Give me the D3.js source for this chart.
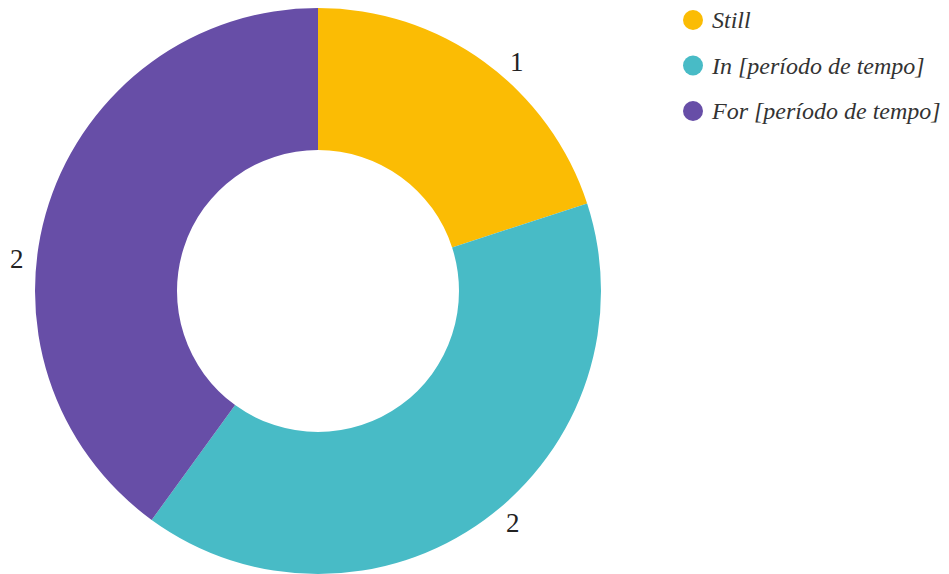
<!DOCTYPE html>
<html>
<head>
<meta charset="utf-8">
<script src="https://cdn.jsdelivr.net/npm/d3@7"></script>
</head>
<body style="margin:0">
<svg id="chart" width="949" height="574"></svg>
<script>
// chart data
var categories = ["Still", "In [período de tempo]", "For [período de tempo]"];
var values = [1, 2, 2];
var colors = ["#fbbc04", "#48bbc6", "#674ea7"];

var svg = d3.select("#chart");

var cx = 318, cy = 291;
var outerR = 283, innerR = 141;
var labelR = 303;
// small angle tweaks (degrees) so labels sit where the original puts them
var labelNudge = [5, -4, -12];

var pie = d3.pie().sort(null).value(function(d) { return d; });
var arcs = pie(values);

var arc = d3.arc().innerRadius(innerR).outerRadius(outerR);

svg.append("g")
  .attr("transform", "translate(" + cx + "," + cy + ")")
  .selectAll("path")
  .data(arcs)
  .enter().append("path")
  .attr("d", arc)
  .attr("fill", function(d, i) { return colors[i]; });

function labelAngle(d, i) {
  return (d.startAngle + d.endAngle) / 2 + labelNudge[i] * Math.PI / 180;
}

// value labels, placed straight on the svg
arcs.forEach(function(d, i) {
  var a = labelAngle(d, i);
  svg.append("text")
    .attr("x", cx + Math.sin(a) * labelR)
    .attr("y", cy - Math.cos(a) * labelR + 9)
    .attr("text-anchor", "middle")
    .attr("font-family", "Liberation Serif")
    .attr("font-size", 27)
    .attr("fill", "#222")
    .text(d.data);
});

// legend
var legendX = 693, legendY = 20, legendStep = 45.5;
categories.forEach(function(name, i) {
  svg.append("circle")
    .attr("cx", legendX)
    .attr("cy", legendY + i * legendStep)
    .attr("r", 10)
    .attr("fill", colors[i]);
  svg.append("text")
    .attr("x", legendX + 19)
    .attr("y", legendY + i * legendStep + 8)
    .attr("font-family", "Liberation Serif")
    .attr("font-style", "italic")
    .attr("font-size", 24)
    .attr("fill", "#333")
    .text(name);
});
</script>
</body>
</html>
